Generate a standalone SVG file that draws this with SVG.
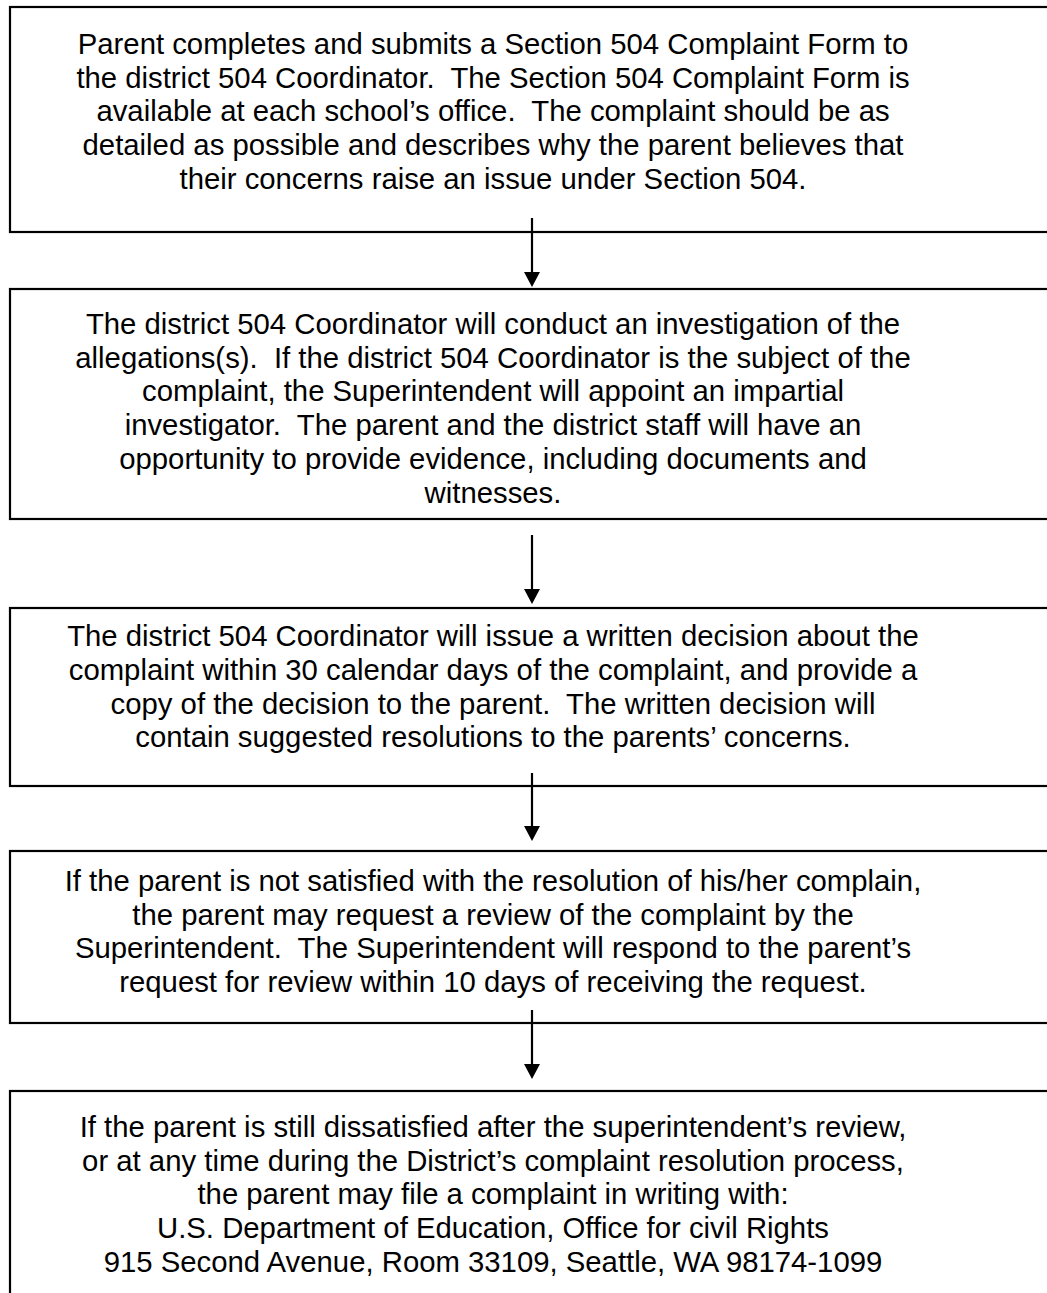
<svg xmlns="http://www.w3.org/2000/svg" width="1047" height="1293" viewBox="0 0 1047 1293">
<style>
.box{fill:#fff;stroke:#000;stroke-width:2.2}
.t{font-family:"Liberation Sans",Arial,sans-serif;font-size:29.3px;fill:#000;text-anchor:middle;white-space:pre}
.arr{stroke:#000;stroke-width:2.2;fill:none}
</style>
<defs>
<marker id="ah" markerUnits="userSpaceOnUse" markerWidth="18" markerHeight="18" viewBox="0 0 16 15" refX="8" refY="15" orient="auto-start-reverse">
<path d="M0,0 L16,0 L8,15 Z" fill="#000"/>
</marker>
</defs>
<rect width="1047" height="1293" fill="#fff"/>
<g id="node1">
<rect class="box" x="10" y="7" width="1060" height="225"/>
<text class="t" xml:space="preserve"><tspan x="493" y="54">Parent completes and submits a Section 504 Complaint Form to</tspan><tspan x="493" y="88">the district 504 Coordinator.  The Section 504 Complaint Form is</tspan><tspan x="493" y="121">available at each school’s office.  The complaint should be as</tspan><tspan x="493" y="155">detailed as possible and describes why the parent believes that</tspan><tspan x="493" y="189">their concerns raise an issue under Section 504.</tspan></text>
</g>
<g id="node2">
<rect class="box" x="10" y="289" width="1060" height="230"/>
<text class="t" xml:space="preserve"><tspan x="493" y="334">The district 504 Coordinator will conduct an investigation of the</tspan><tspan x="493" y="368">allegations(s).  If the district 504 Coordinator is the subject of the</tspan><tspan x="493" y="401">complaint, the Superintendent will appoint an impartial</tspan><tspan x="493" y="435">investigator.  The parent and the district staff will have an</tspan><tspan x="493" y="469">opportunity to provide evidence, including documents and</tspan><tspan x="493" y="503">witnesses.</tspan></text>
</g>
<g id="node3">
<rect class="box" x="10" y="608" width="1060" height="178"/>
<text class="t" xml:space="preserve"><tspan x="493" y="646">The district 504 Coordinator will issue a written decision about the</tspan><tspan x="493" y="680">complaint within 30 calendar days of the complaint, and provide a</tspan><tspan x="493" y="714">copy of the decision to the parent.  The written decision will</tspan><tspan x="493" y="747">contain suggested resolutions to the parents’ concerns.</tspan></text>
</g>
<g id="node4">
<rect class="box" x="10" y="851" width="1060" height="172"/>
<text class="t" xml:space="preserve"><tspan x="493" y="891">If the parent is not satisfied with the resolution of his/her complain,</tspan><tspan x="493" y="925">the parent may request a review of the complaint by the</tspan><tspan x="493" y="958">Superintendent.  The Superintendent will respond to the parent’s</tspan><tspan x="493" y="992">request for review within 10 days of receiving the request.</tspan></text>
</g>
<g id="node5">
<rect class="box" x="10" y="1091" width="1060" height="220"/>
<text class="t" xml:space="preserve"><tspan x="493" y="1137">If the parent is still dissatisfied after the superintendent’s review,</tspan><tspan x="493" y="1171">or at any time during the District’s complaint resolution process,</tspan><tspan x="493" y="1204">the parent may file a complaint in writing with:</tspan><tspan x="493" y="1238">U.S. Department of Education, Office for civil Rights</tspan><tspan x="493" y="1272">915 Second Avenue, Room 33109, Seattle, WA 98174-1099</tspan></text>
</g>
<g id="connectors">
<line class="arr" x1="532" y1="218" x2="532" y2="276"/>
<path d="M524,272 L540,272 L532,287 Z"/>
<line class="arr" x1="532" y1="535" x2="532" y2="593"/>
<path d="M524,589 L540,589 L532,604 Z"/>
<line class="arr" x1="532" y1="773" x2="532" y2="830"/>
<path d="M524,826 L540,826 L532,841 Z"/>
<line class="arr" x1="532" y1="1010" x2="532" y2="1068"/>
<path d="M524,1064 L540,1064 L532,1079 Z"/>
</g>
</svg>
